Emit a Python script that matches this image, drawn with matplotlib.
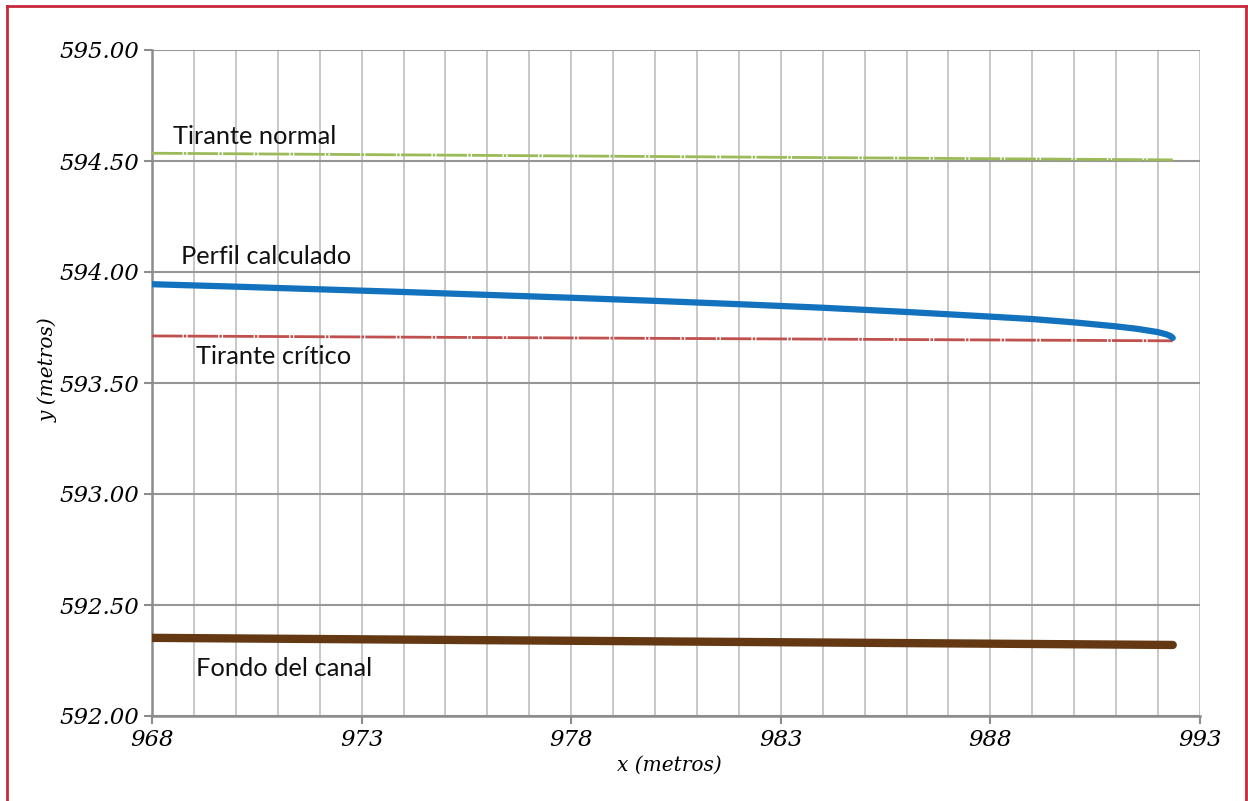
import numpy as np
import matplotlib.pyplot as plt
from matplotlib.ticker import FixedLocator, MultipleLocator, FormatStrFormatter
from matplotlib.lines import Line2D

# datos
x_normal = [968.0, 992.35]
y_normal = [594.535, 594.505]

x_critico = [968.0, 992.35]
y_critico = [593.712, 593.690]

x_fondo = [968.0, 992.35]
y_fondo = [592.352, 592.320]

x_perfil = [968, 970, 972, 974, 976, 978, 980, 982, 984, 986, 988,
            989, 990, 991, 991.5, 992, 992.2, 992.3, 992.35]
y_perfil = [593.945, 593.934, 593.922, 593.910, 593.897, 593.884, 593.870,
            593.855, 593.839, 593.820, 593.799, 593.788, 593.773, 593.755,
            593.744, 593.729, 593.719, 593.711, 593.703]

xticks = [968, 973, 978, 983, 988, 993]

etiquetas = ["Tirante normal", "Perfil calculado", "Tirante crítico", "Fondo del canal"]
pos_etiquetas = [(968.5, 594.61), (968.7, 594.07), (969.05, 593.62), (969.05, 592.215)]

fig = plt.figure(figsize=(12.48, 8.01), dpi=100)
ax = fig.add_axes([152/1248, 1-716/801, (1200-152)/1248, (716-50)/801])

dashdot = (0, (11, 0.45, 0.9, 0.45))
ax.plot(x_normal, y_normal, color="#9bbb59", lw=2.0, ls=dashdot, zorder=3)
ax.plot(x_critico, y_critico, color="#c0504d", lw=2.0, ls=dashdot, zorder=3)
ax.plot(x_perfil, y_perfil, color="#1272be", lw=4.5, solid_capstyle="round", zorder=4)
ax.plot(x_fondo, y_fondo, color="#643812", lw=6.0, solid_capstyle="round", zorder=4)

for txt, (tx, ty) in zip(etiquetas, pos_etiquetas):
    ax.text(tx, ty, txt, fontsize=18.3, family="Lato", color="#111111", va="center", ha="left")

ax.set_xlim(968, 993)
ax.set_ylim(592, 595)
ax.xaxis.set_major_locator(FixedLocator(xticks))
ax.xaxis.set_minor_locator(MultipleLocator(1))
ax.yaxis.set_major_locator(MultipleLocator(0.5))
ax.yaxis.set_major_formatter(FormatStrFormatter("%.2f"))

ax.grid(which="both", axis="x", color="#c4c4c4", lw=1.3)
ax.grid(which="major", axis="y", color="#969696", lw=1.5)
ax.set_axisbelow(True)

for s in ["top", "right"]:
    ax.spines[s].set_visible(False)
for s in ["left", "bottom"]:
    ax.spines[s].set_color("#8c8c8c")
    ax.spines[s].set_linewidth(1.8)

ax.tick_params(axis="both", which="major", color="#8c8c8c", width=1.5, length=6,
               labelsize=16.5, pad=3)
ax.tick_params(axis="x", which="minor", length=0)
for lab in ax.get_xticklabels() + ax.get_yticklabels():
    lab.set_family("DejaVu Serif")
    lab.set_style("italic")

ax.set_xlabel("x (metros)", fontsize=14.5, family="DejaVu Serif", style="italic")
ax.set_ylabel("y (metros)", fontsize=14.5, family="DejaVu Serif", style="italic")
ax.xaxis.set_label_coords(0.494, -0.060)
ax.yaxis.set_label_coords(-0.090, 0.52)

# marco rojo
borde = "#c8283c"
fig.add_artist(Line2D([7/1248, 7/1248], [0, 1-6/801], color=borde, lw=2, transform=fig.transFigure))
fig.add_artist(Line2D([7/1248, 1246/1248], [1-6/801, 1-6/801], color=borde, lw=2, transform=fig.transFigure))
fig.add_artist(Line2D([1246/1248, 1246/1248], [0, 1-6/801], color=borde, lw=2, transform=fig.transFigure))

fig.savefig("out.png", dpi=100)
